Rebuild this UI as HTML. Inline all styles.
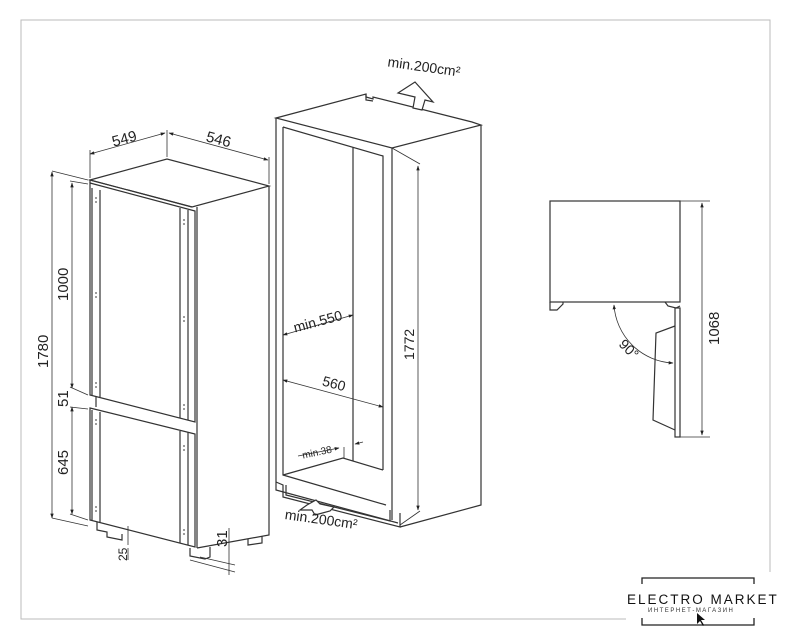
<!DOCTYPE html>
<html><head><meta charset="utf-8"><style>
html,body{margin:0;padding:0;background:#fff;}
svg{display:block;}
text{font-family:"Liberation Sans",sans-serif;fill:#222;}
</style></head><body>
<svg width="791" height="640" viewBox="0 0 791 640" xmlns="http://www.w3.org/2000/svg">
<defs>
<marker id="a" viewBox="0 0 10 10" refX="9" refY="5" markerWidth="6" markerHeight="6" orient="auto-start-reverse"><path d="M0,1.5 L10,5 L0,8.5 z" fill="#222"/></marker>
</defs>
<rect x="21" y="20" width="749" height="599" fill="none" stroke="#bbb" stroke-width="1"/>

<g fill="none" stroke="#333" stroke-width="1.2">
<path d="M90,180 L167,159 L269,186 L192,207 Z" fill="#fff"/>
<path d="M269,186 L269,535 L197,548"/>
<path d="M197,207 L197,548"/>
<path d="M90,183 L195,211 L195,422 L90,395 Z"/>
<path d="M92,188 L92,395 M100,190 L100,397"/>
<path d="M180,208 L180,418 M188,210 L188,420"/>
<path d="M90,183 L90,180 L192,207"/>
<path d="M90,408 L195,434 L195,547 L90,520 Z"/>
<path d="M92,410 L92,520 M100,412 L100,522"/>
<path d="M180,431 L180,543 M188,432 L188,545"/>
<path d="M96,396 L96,407"/>
<path d="M97,522 L97,530 L107,532 L107,537 L122,540 L122,534"/>
<path d="M190,548 L190,556 L205,559 L210,557 L210,547"/>
<path d="M248,539 L248,545 L262,543 L262,536"/>
</g>
<g fill="#555">
<circle cx="96" cy="198" r="0.9"/><circle cx="96" cy="202" r="0.9"/>
<circle cx="96" cy="293" r="0.9"/><circle cx="96" cy="297" r="0.9"/>
<circle cx="96" cy="383" r="0.9"/><circle cx="96" cy="387" r="0.9"/>
<circle cx="184" cy="220" r="0.9"/><circle cx="184" cy="224" r="0.9"/>
<circle cx="184" cy="317" r="0.9"/><circle cx="184" cy="321" r="0.9"/>
<circle cx="184" cy="405" r="0.9"/><circle cx="184" cy="409" r="0.9"/>
<circle cx="96" cy="420" r="0.9"/><circle cx="96" cy="424" r="0.9"/>
<circle cx="96" cy="507" r="0.9"/><circle cx="96" cy="511" r="0.9"/>
<circle cx="184" cy="446" r="0.9"/><circle cx="184" cy="450" r="0.9"/>
<circle cx="184" cy="530" r="0.9"/><circle cx="184" cy="534" r="0.9"/>
</g>
<g stroke="#333" stroke-width="0.8" fill="none">
<path d="M52,171 L88,180 M70,181 L88,184 M52,518 L88,526 M70,514 L88,520 M70,387 L88,395 M70,407 L88,409"/>
<path d="M52,172 L52,518" marker-start="url(#a)" marker-end="url(#a)"/>
<path d="M72,183 L72,388" marker-start="url(#a)" marker-end="url(#a)"/>
<path d="M72,407 L72,514" marker-start="url(#a)" marker-end="url(#a)"/>
<path d="M90,178 L90,150 M167,157 L167,130 M269,184 L269,157"/>
<path d="M90,154 L165,133" marker-start="url(#a)" marker-end="url(#a)"/>
<path d="M169,133 L268,160" marker-start="url(#a)" marker-end="url(#a)"/>
<path d="M128,526 L128,545 M128,548 L128,560"/>
<path d="M229,528 L229,575 M200,557 L235,565 M190,560 L235,572"/>
</g>
<g font-size="15">
<text x="112" y="143" transform="rotate(-15 127 139)">549</text>
<text x="206" y="145" transform="rotate(15 221 140)">546</text>
<text transform="translate(48,368) rotate(-90)">1780</text>
<text transform="translate(68,301) rotate(-90)">1000</text>
<text transform="translate(68,407) rotate(-90)">51</text>
<text transform="translate(68,475) rotate(-90)">645</text>
<text transform="translate(127,561) rotate(-90)" font-size="12">25</text>
<text transform="translate(227,547) rotate(-90)">31</text>
</g>

<g fill="none" stroke="#333" stroke-width="1.2">
<path d="M276,118 L366,94 L366,97 L373,99 L373,97 L472,122 L481,125 L392,148 Z"/>
<path d="M366,94 L366,100 L373,101"/>
<path d="M481,125 L481,505 L400,527"/>
<path d="M392,148 L392,520"/>
<path d="M276,118 L276,482"/>
<path d="M283,127 L383,156 L383,470"/>
<path d="M283,127 L283,475 L386,505"/>
<path d="M353,147 L353,461"/>
<path d="M283,475 L343,458 L383,470"/>
<path d="M276,482 L283,485 L283,497 L400,527 L400,513"/>
<path d="M286,485 L286,495 L390,521 L390,510"/>
<path d="M276,482 L276,490 L398,523"/>
<path d="M398,93 L415,82 L433,102 L425,100 L422,110 L413,108 L415,97 Z" fill="#fff"/>
<path d="M307,505 L300,510 L312,510 L315,515 L330,511 L334,507 L320,504 L316,500 Z" fill="#fff"/>
</g>
<g stroke="#333" stroke-width="0.8" fill="none">
<path d="M392,148 L420,164 M400,525 L420,511"/>
<path d="M418,166 L418,510" marker-start="url(#a)" marker-end="url(#a)"/>
<path d="M283,335 L353,315" marker-start="url(#a)" marker-end="url(#a)"/>
<path d="M283,380 L383,407" marker-start="url(#a)" marker-end="url(#a)"/>
<path d="M298,456 L339,448" marker-end="url(#a)"/>
<path d="M363,442 L355,444" marker-end="url(#a)"/>
<path d="M344,447 L344,458"/>
</g>
<g font-size="14">
<text x="387" y="71" transform="rotate(8 420 70)" font-size="14">min.200cm²</text>
<text x="293" y="327" transform="rotate(-15 315 322)">min.550</text>
<text x="322" y="389" transform="rotate(15 336 385)">560</text>
<text x="302" y="455" transform="rotate(-12 320 452)" font-size="10">min.38</text>
<text x="284" y="524" transform="rotate(8 320 524)" font-size="14">min.200cm²</text>
<text transform="translate(414,360) rotate(-90)">1772</text>
</g>

<g fill="none" stroke="#333" stroke-width="1.2">
<rect x="550" y="201" width="130" height="101"/>
<path d="M550,302 L550,310 L557,310 L563,304 L563,302"/>
<path d="M665,302 L668,306 L676,308 L680,306"/>
<rect x="675" y="308" width="5" height="129"/>
<path d="M675,326 L656,333 L653,420 L675,430"/>
</g>
<g stroke="#333" stroke-width="0.8" fill="none">
<path d="M680,201 L710,201 M680,437 L710,437"/>
<path d="M702,203 L702,435" marker-start="url(#a)" marker-end="url(#a)"/>
<path d="M614,305 A62,62 0 0 0 673,363" marker-start="url(#a)" marker-end="url(#a)"/>
</g>
<text font-size="15" transform="translate(719,345) rotate(-90)">1068</text>
<text font-size="14" transform="translate(618,345) rotate(45)">90°</text>

<rect x="626" y="572" width="147" height="55" fill="#fff"/>
<g stroke="#222" stroke-width="1.3" fill="none">
<path d="M642,584 L642,578 L754,578 L754,584"/>
<path d="M642,618 L642,625 L754,625 L754,618"/>
</g>
<text x="627" y="604" font-size="13.5" letter-spacing="2" style="fill:#111">ELECTRO MARKET</text>
<text x="648" y="612" font-size="6" letter-spacing="1.5" style="fill:#333">ИНТЕРНЕТ-МАГАЗИН</text>
<path d="M697,613 L697,624 L700,621 L703,626 L704,625 L701,620 L705,620 Z" fill="#111"/>
</svg>
</body></html>
